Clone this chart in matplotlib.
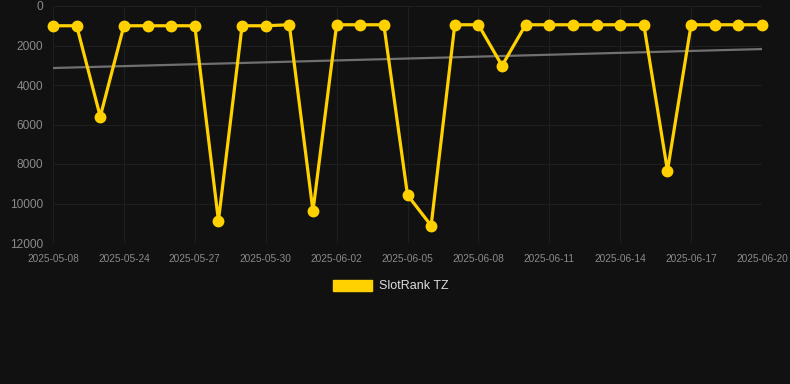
import numpy as np
import matplotlib.pyplot as plt

# ============================================================
# DATA
# ============================================================
dates = ["2025-05-08", "2025-05-22", "2025-05-23", "2025-05-24", "2025-05-25",
         "2025-05-26", "2025-05-27", "2025-05-28", "2025-05-29", "2025-05-30",
         "2025-05-31", "2025-06-01", "2025-06-02", "2025-06-03", "2025-06-04",
         "2025-06-05", "2025-06-06", "2025-06-07", "2025-06-08", "2025-06-09",
         "2025-06-10", "2025-06-11", "2025-06-12", "2025-06-13", "2025-06-14",
         "2025-06-15", "2025-06-16", "2025-06-17", "2025-06-18", "2025-06-19",
         "2025-06-20"]
rank = [1000, 1000, 5600, 1000, 1000, 1000, 1000, 10870, 1000, 1000,
        950, 10380, 950, 950, 950, 9570, 11120, 950, 950, 3020,
        950, 950, 950, 950, 950, 950, 8340, 950, 950, 950,
        950]
trend = [3140, 2180]  # ujung garis tren (awal, akhir)

bg = "#111111"
yellow = "#FFD100"
txt = "#8a8a8a"

# ============================================================
# PLOT
# ============================================================
fig = plt.figure(figsize=(7.9, 3.84), dpi=100, facecolor=bg)
ax = fig.add_axes([53 / 790, 1 - 243 / 384, (762 - 53) / 790, (243 - 6) / 384])
ax.set_facecolor(bg)

x = np.arange(len(dates))
ax.plot([x[0], x[-1]], trend, color="#707070", lw=1.6, zorder=2)
ax.plot(x, rank, color=yellow, lw=2.3, marker="o", ms=7.5,
        solid_joinstyle="miter", clip_on=False, zorder=3, label="SlotRank TZ")

ax.set_xlim(0, len(dates) - 1)
ax.set_ylim(12000, 0)
ax.set_yticks(np.arange(0, 12001, 2000))
ax.set_xticks(x[::3])
ax.set_xticklabels(dates[::3])

ax.grid(True, color="#1f1f1f", lw=0.8)
ax.set_axisbelow(True)
for s in ax.spines.values():
    s.set_visible(False)
ax.tick_params(length=0, colors=txt, labelsize=7.3, pad=8)
ax.tick_params(axis="y", labelsize=8.6, pad=7)
for lab in ax.get_xticklabels() + ax.get_yticklabels():
    lab.set_family("Liberation Sans")

handle = plt.Rectangle((0, 0), 1, 1, color=yellow)
leg = fig.legend([handle], ["SlotRank TZ"], loc="center", bbox_to_anchor=(0.495, 1 - 286 / 384),
                 frameon=False, handlelength=3.1, handleheight=1.0, handletextpad=0.55,
                 prop={"family": "Liberation Sans", "size": 9})
for t in leg.get_texts():
    t.set_color("#dddddd")

fig.savefig("out.png", dpi=100, facecolor=bg)
